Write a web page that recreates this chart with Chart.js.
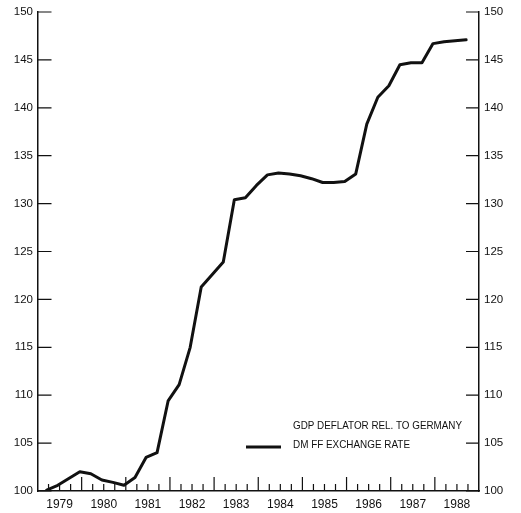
<!DOCTYPE html>
<html lang="en">
<head>
<meta charset="UTF-8">
<title>DM / FF exchange rate, 1979-1988</title>
<script src="https://cdn.jsdelivr.net/npm/chart.js@4.4.1/dist/chart.umd.min.js"></script>
<style>
  html, body { margin: 0; padding: 0; background: #fff; }
  #wrap { width: 521px; height: 513px; }
</style>
</head>
<body>
<div id="wrap"><canvas id="chart" width="521" height="513"></canvas></div>
<script>
// quarterly values
const quarters = [
  '1979Q1', '1979Q2', '1979Q3', '1979Q4', '1980Q1', '1980Q2', '1980Q3', '1980Q4',
  '1981Q1', '1981Q2', '1981Q3', '1981Q4', '1982Q1', '1982Q2', '1982Q3', '1982Q4',
  '1983Q1', '1983Q2', '1983Q3', '1983Q4', '1984Q1', '1984Q2', '1984Q3', '1984Q4',
  '1985Q1', '1985Q2', '1985Q3', '1985Q4', '1986Q1', '1986Q2', '1986Q3', '1986Q4',
  '1987Q1', '1987Q2', '1987Q3', '1987Q4', '1988Q1', '1988Q2', '1988Q3'
];
const exchangeRate = [
  100.1, 100.6, 101.3, 102.0, 101.8, 101.15, 100.9, 100.6,
  101.4, 103.5, 104.0, 109.4, 111.1, 115.0, 121.3, 122.6,
  123.9, 130.4, 130.6, 131.9, 133.0, 133.2, 133.1, 132.9,
  132.6, 132.2, 132.2, 132.3, 133.1, 138.3, 141.1, 142.3,
  144.5, 144.7, 144.7, 146.7, 146.9, 147.0, 147.1
];
const yearLabels = ['1979', '1980', '1981', '1982', '1983', '1984', '1985', '1986', '1987', '1988'];
const yTicks = [100, 105, 110, 115, 120, 125, 130, 135, 140, 145, 150];
const legendLabels = ['GDP DEFLATOR REL. TO GERMANY', 'DM FF EXCHANGE RATE'];

const ink = '#111';
const labelFont = '"Liberation Sans", Arial, sans-serif';
const narrowFont = '"Liberation Sans Narrow", "Liberation Sans", Arial, sans-serif';

// each quarter is plotted at the middle of its last month
function quarterPos(q) {
  const year = parseInt(q.slice(0, 4), 10);
  const n = parseInt(q.slice(5), 10);
  return year + (3 * n - 0.5) / 12;
}

const points = quarters.map((q, i) => ({ x: quarterPos(q), y: exchangeRate[i] }));
const firstYear = +yearLabels[0];
const lastYear = +yearLabels[yearLabels.length - 1] + 1;

// tick marks point into the plot, like the printed figure
const innerTicks = {
  id: 'innerTicks',
  afterDatasetsDraw(chart) {
    const { ctx, chartArea: a, scales } = chart;
    ctx.save();
    ctx.strokeStyle = ink;
    ctx.lineWidth = 1.2;
    ctx.beginPath();
    yTicks.forEach(v => {
      const py = scales.y.getPixelForValue(v);
      ctx.moveTo(a.left, py); ctx.lineTo(a.left + 14, py);
      ctx.moveTo(a.right - 13, py); ctx.lineTo(a.right, py);
    });
    const nq = (lastYear - firstYear) * 4;
    for (let i = 1; i < nq; i++) {
      const px = scales.x.getPixelForValue(firstYear + i / 4);
      const len = i % 4 === 0 ? 14 : 7;
      ctx.moveTo(px, a.bottom); ctx.lineTo(px, a.bottom - len);
    }
    ctx.stroke();
    ctx.restore();
  }
};

function fillFitted(ctx, text, x, y, width) {
  const w = ctx.measureText(text).width;
  ctx.save();
  ctx.translate(x, y);
  ctx.scale(width / w, 1);
  ctx.fillText(text, 0, 0);
  ctx.restore();
}

const legendBox = {
  id: 'legendBox',
  afterDraw(chart) {
    const ctx = chart.ctx;
    ctx.save();
    ctx.fillStyle = ink;
    ctx.font = '11px ' + narrowFont;
    ctx.textBaseline = 'middle';
    fillFitted(ctx, legendLabels[0], 293, 426, 169);
    fillFitted(ctx, legendLabels[1], 293, 445, 117);
    ctx.strokeStyle = ink;
    ctx.lineWidth = 3;
    ctx.beginPath();
    ctx.moveTo(246, 447);
    ctx.lineTo(281, 447);
    ctx.stroke();
    ctx.restore();
  }
};

function yAxis(position, width, padding) {
  return {
    type: 'linear',
    position: position,
    min: yTicks[0],
    max: yTicks[yTicks.length - 1],
    afterBuildTicks: s => { s.ticks = yTicks.map(v => ({ value: v })); },
    afterFit: s => { s.width = width; },
    grid: { display: false, drawTicks: false },
    border: { color: ink, width: 1.5 },
    ticks: { color: ink, padding: padding, font: { family: labelFont, size: 11.5 } }
  };
}

new Chart(document.getElementById('chart'), {
  type: 'line',
  data: {
    datasets: [{
      label: legendLabels[1],
      data: points,
      borderColor: ink,
      borderWidth: 3,
      pointRadius: 0,
      tension: 0,
      borderJoinStyle: 'round',
      borderCapStyle: 'round'
    }]
  },
  options: {
    responsive: false,
    animation: false,
    layout: { padding: { top: 12, left: 0, right: 0, bottom: 0 } },
    plugins: { legend: { display: false }, tooltip: { enabled: false } },
    scales: {
      x: {
        type: 'linear',
        min: firstYear,
        max: lastYear,
        afterBuildTicks: s => { s.ticks = yearLabels.map(y => ({ value: +y + 0.5 })); },
        afterFit: s => { s.height = 22; },
        grid: { display: false, drawTicks: false },
        border: { color: ink, width: 1.5 },
        ticks: {
          color: ink,
          padding: 6,
          maxRotation: 0,
          autoSkip: false,
          font: { family: narrowFont, size: 12 },
          callback: v => String(Math.floor(v))
        }
      },
      y: yAxis('left', 37.5, 4.5),
      y2: yAxis('right', 42, 5)
    }
  },
  plugins: [innerTicks, legendBox]
});
</script>
</body>
</html>
